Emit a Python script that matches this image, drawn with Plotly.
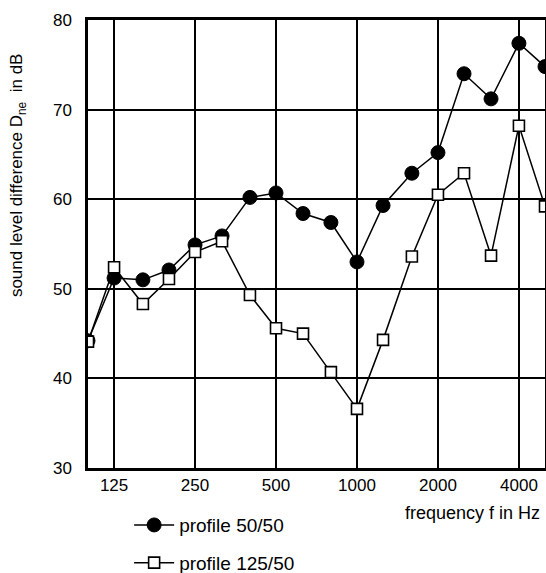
import plotly.graph_objects as go
import math

freqs = [100, 125, 160, 200, 250, 315, 400, 500, 630, 800, 1000, 1250, 1600, 2000, 2500, 3150, 4000, 5000]
profile_50_50 = [44.2, 51.2, 51.0, 52.1, 54.9, 55.9, 60.2, 60.7, 58.4, 57.4, 53.0, 59.3, 62.9, 65.2, 74.0, 71.2, 77.4, 74.8]
profile_125_50 = [44.1, 52.4, 48.3, 51.1, 54.1, 55.3, 49.3, 45.6, 45.0, 40.7, 36.6, 44.3, 53.6, 60.5, 62.9, 53.7, 68.2, 59.2]
x_ticks = [125, 250, 500, 1000, 2000, 4000]
y_ticks = [30, 40, 50, 60, 70, 80]

FONT = "Liberation Sans, Arial, sans-serif"

fig = go.Figure()
fig.add_trace(go.Scatter(
    x=freqs, y=profile_50_50, mode="lines+markers", name="profile 50/50",
    legendgroup="a",
    line=dict(color="black", width=1.5),
    marker=dict(symbol="circle", size=14, color="black", line=dict(color="black", width=1)),
))
fig.add_trace(go.Scatter(
    x=freqs, y=profile_125_50, mode="lines+markers", name="profile 125/50",
    legendgroup="b",
    line=dict(color="black", width=1.5),
    marker=dict(symbol="square", size=11, color="white", line=dict(color="black", width=1.6)),
))

fig.update_layout(
    width=546, height=573,
    margin=dict(l=88, r=1, t=20, b=105, autoexpand=False),
    paper_bgcolor="white", plot_bgcolor="white",
    font=dict(family=FONT, size=17, color="black"),
    showlegend=True,
    legend=dict(
        x=0.09, y=-0.085, xanchor="left", yanchor="top",
        orientation="v", tracegroupgap=10, itemwidth=40,
        font=dict(size=19, family=FONT, color="black"),
        bgcolor="rgba(0,0,0,0)",
    ),
    xaxis=dict(
        type="log", range=[math.log10(100), math.log10(5000)],
        tickvals=x_ticks, ticktext=[str(v) for v in x_ticks],
        showgrid=True, gridcolor="black", gridwidth=1.6,
        showline=True, linecolor="black", linewidth=2.5, mirror=True,
        ticks="", ticklabelstandoff=0, zeroline=False,
        tickfont=dict(size=17),
    ),
    yaxis=dict(
        range=[30, 80], tickvals=y_ticks,
        showgrid=True, gridcolor="black", gridwidth=1.6,
        showline=True, linecolor="black", linewidth=2.5, mirror=True,
        ticks="", ticklabelstandoff=10, zeroline=False,
        tickfont=dict(size=17),
    ),
    annotations=[
        dict(text="frequency f in Hz", xref="paper", yref="paper",
             x=0.993, y=-0.101, xanchor="right", yanchor="middle",
             showarrow=False, font=dict(size=18, family=FONT)),
        dict(text="sound level difference D<sub>ne</sub>  in dB", xref="paper", yref="paper",
             x=-0.153, y=0.654, xanchor="center", yanchor="middle", textangle=-90,
             showarrow=False, font=dict(size=17, family=FONT)),
    ],
)

fig.write_html("out.html", config={"displayModeBar": False},
               post_script="document.body.style.margin='0';document.body.style.overflow='hidden';")
